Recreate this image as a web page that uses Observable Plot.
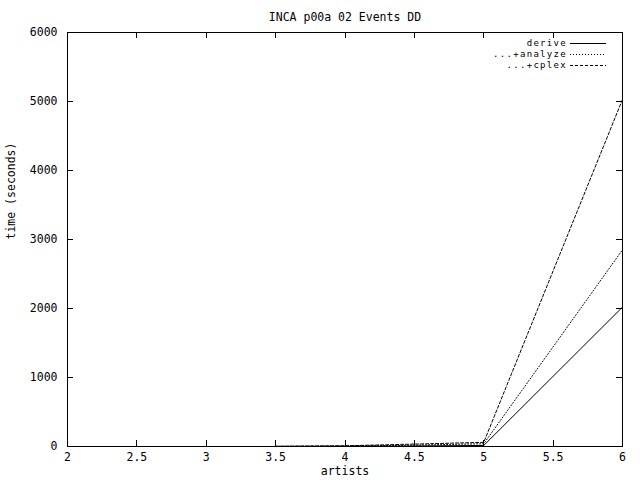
<!DOCTYPE html>
<html><head><meta charset="utf-8">
<script src="https://cdn.jsdelivr.net/npm/d3@7"></script>
<script src="https://cdn.jsdelivr.net/npm/@observablehq/plot@0.6"></script>
<style>body{margin:0;background:#fff} svg{display:block}</style>
</head><body><div id="chart"></div>
<script>
const artists = [3.5, 4, 4.5, 5, 6];
const derive = [1, 3, 8, 15, 2020];
const analyze = [2, 6, 20, 40, 2850];
const cplex = [3, 10, 35, 60, 5030];
const seriesNames = ["derive", "...+analyze", "...+cplex"];
const dashes = [null, "1,2", "3,2"];
const xTicks = [2, 2.5, 3, 3.5, 4, 4.5, 5, 5.5, 6];
const yTicks = [0, 1000, 2000, 3000, 4000, 5000, 6000];
const title = "INCA p00a 02 Events DD";
const xLabel = "artists";
const yLabel = "time (seconds)";

const seriesValues = [derive, analyze, cplex];
const tables = seriesValues.map(vals => artists.map((a, i) => ({x: a, y: vals[i]})));

const W = 640, H = 480, mL = 67, mR = 18, mT = 32, mB = 34;
const fw = W - mL - mR, fh = H - mT - mB;
const FONT = "DejaVu Sans Mono";

const chart = Plot.plot({
  width: W, height: H,
  marginLeft: mL, marginRight: mR, marginTop: mT, marginBottom: mB,
  style: {fontFamily: FONT, fontSize: "11.5px", background: "white", color: "black"},
  x: {domain: [2, 6], ticks: xTicks, tickSize: 0, tickPadding: 6, tickFormat: d => String(d), label: null},
  y: {domain: [0, 6000], ticks: yTicks, tickSize: 0, tickPadding: 10, tickFormat: d => String(d), label: null},
  marks: [
    Plot.frame({stroke: "black", strokeWidth: 1, shapeRendering: "crispEdges"}),
    Plot.tickX(xTicks, {x: d => d, insetTop: fh - 6, stroke: "black", shapeRendering: "crispEdges"}),
    Plot.tickX(xTicks, {x: d => d, insetBottom: fh - 6, stroke: "black", shapeRendering: "crispEdges"}),
    Plot.tickY(yTicks, {y: d => d, insetRight: fw - 6, stroke: "black", shapeRendering: "crispEdges"}),
    Plot.tickY(yTicks, {y: d => d, insetLeft: fw - 6, stroke: "black", shapeRendering: "crispEdges"}),
    ...tables.map((t, i) => Plot.line(t, {x: "x", y: "y", stroke: "black", strokeWidth: 1, strokeDasharray: dashes[i]})),
    Plot.text([title], {text: d => d, frameAnchor: "top", dy: -20, fill: "black"}),
    Plot.text([xLabel], {text: d => d, frameAnchor: "bottom", dy: 28, fill: "black"}),
    Plot.text([yLabel], {text: d => d, frameAnchor: "left", dx: -56, rotate: -90, fill: "black"})
  ]
});
// legend (top-right, inside the frame)
const svg = d3.select(chart);
const lg = svg.append("g").attr("font-family", FONT).attr("font-size", "9px").attr("letter-spacing", "1.3px");
seriesNames.forEach((s, i) => {
  const cy = mT + 11.3 + i * 10.7;
  lg.append("text")
    .attr("x", 567).attr("y", cy).attr("dy", "0.32em")
    .attr("text-anchor", "end").attr("fill", "black").text(s);
  lg.append("line")
    .attr("x1", 570).attr("x2", 606)
    .attr("y1", Math.round(cy) + 0.5).attr("y2", Math.round(cy) + 0.5)
    .attr("stroke", "black").attr("stroke-width", 1)
    .attr("stroke-dasharray", dashes[i])
    .attr("shape-rendering", "crispEdges");
});
document.getElementById("chart").appendChild(chart);
</script>
</body></html>
